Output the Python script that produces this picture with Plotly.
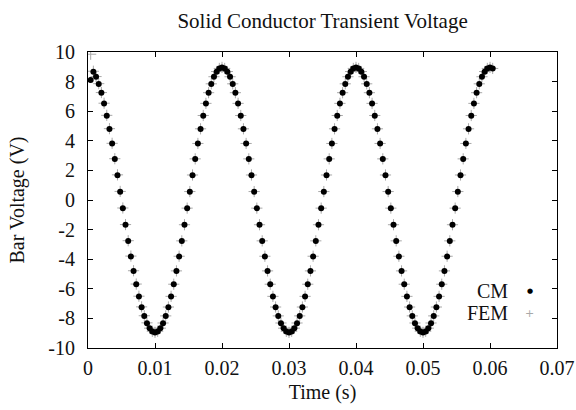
import plotly.graph_objects as go

# ---- data ----
time_step = 0.0004
cm_voltage = [
    8.10, 8.67, 8.32, 7.84, 7.24, 6.52, 5.70, 4.80, 3.81, 2.77, 1.68, 0.56,
    -0.56, -1.68, -2.77, -3.81, -4.80, -5.70, -6.52, -7.24, -7.84, -8.32, -8.67, -8.88, -8.95,
    -8.88, -8.67, -8.32, -7.84, -7.24, -6.52, -5.70, -4.80, -3.81, -2.77, -1.68, -0.56,
    0.56, 1.68, 2.77, 3.81, 4.80, 5.70, 6.52, 7.24, 7.84, 8.32, 8.67, 8.88, 8.95,
    8.88, 8.67, 8.32, 7.84, 7.24, 6.52, 5.70, 4.80, 3.81, 2.77, 1.68, 0.56,
    -0.56, -1.68, -2.77, -3.81, -4.80, -5.70, -6.52, -7.24, -7.84, -8.32, -8.67, -8.88, -8.95,
    -8.88, -8.67, -8.32, -7.84, -7.24, -6.52, -5.70, -4.80, -3.81, -2.77, -1.68, -0.56,
    0.56, 1.68, 2.77, 3.81, 4.80, 5.70, 6.52, 7.24, 7.84, 8.32, 8.67, 8.88, 8.95,
    8.88, 8.67, 8.32, 7.84, 7.24, 6.52, 5.70, 4.80, 3.81, 2.77, 1.68, 0.56,
    -0.56, -1.68, -2.77, -3.81, -4.80, -5.70, -6.52, -7.24, -7.84, -8.32, -8.67, -8.88, -8.95,
    -8.88, -8.67, -8.32, -7.84, -7.24, -6.52, -5.70, -4.80, -3.81, -2.77, -1.68, -0.56,
    0.56, 1.68, 2.77, 3.81, 4.80, 5.70, 6.52, 7.24, 7.84, 8.32, 8.67, 8.88, 8.95,
    8.88,
]
fem_voltage = [
    9.85, 8.70, 8.34, 7.86, 7.26, 6.54, 5.72, 4.82, 3.83, 2.79, 1.70, 0.58,
    -0.54, -1.66, -2.75, -3.79, -4.78, -5.68, -6.50, -7.22, -7.82, -8.30, -8.66, -8.87, -8.94,
    -8.87, -8.66, -8.31, -7.83, -7.23, -6.51, -5.69, -4.79, -3.80, -2.76, -1.67, -0.55,
    0.57, 1.69, 2.78, 3.82, 4.81, 5.71, 6.53, 7.25, 7.85, 8.33, 8.68, 8.89, 8.96,
    8.89, 8.68, 8.33, 7.85, 7.25, 6.53, 5.71, 4.81, 3.82, 2.78, 1.69, 0.57,
    -0.55, -1.67, -2.76, -3.80, -4.79, -5.69, -6.51, -7.23, -7.83, -8.31, -8.66, -8.87, -8.94,
    -8.87, -8.66, -8.31, -7.83, -7.23, -6.51, -5.69, -4.79, -3.80, -2.76, -1.67, -0.55,
    0.57, 1.69, 2.78, 3.82, 4.81, 5.71, 6.53, 7.25, 7.85, 8.33, 8.68, 8.89, 8.96,
    8.89, 8.68, 8.33, 7.85, 7.25, 6.53, 5.71, 4.81, 3.82, 2.78, 1.69, 0.57,
    -0.55, -1.67, -2.76, -3.80, -4.79, -5.69, -6.51, -7.23, -7.83, -8.31, -8.66, -8.87, -8.94,
    -8.87, -8.66, -8.31, -7.83, -7.23, -6.51, -5.69, -4.79, -3.80, -2.76, -1.67, -0.55,
    0.57, 1.69, 2.78, 3.82, 4.81, 5.71, 6.53, 7.25, 7.85, 8.33, 8.68, 8.89, 8.96,
    8.89,
]
time_s = [round(time_step * (i + 1), 4) for i in range(len(cm_voltage))]

x_tick_vals = [0, 0.01, 0.02, 0.03, 0.04, 0.05, 0.06, 0.07]
x_tick_text = ["0", "0.01", "0.02", "0.03", "0.04", "0.05", "0.06", "0.07"]
y_tick_vals = [10, 8, 6, 4, 2, 0, -2, -4, -6, -8, -10]
y_tick_text = ["10", "8", "6", "4", "2", "0", "-2", "-4", "-6", "-8", "-10"]

FONT = "Liberation Serif"
FS = 20

fig = go.Figure()
fig.add_trace(go.Scatter(
    x=time_s, y=fem_voltage, mode="markers", name="FEM",
    marker=dict(symbol="cross-thin", size=8, line=dict(color="#a8a8a8", width=1)),
))
fig.add_trace(go.Scatter(
    x=time_s, y=cm_voltage, mode="markers", name="CM",
    marker=dict(symbol="circle", size=6, color="black"),
))

axis_common = dict(
    showline=True, linecolor="black", linewidth=1, mirror="ticks",
    ticks="inside", ticklen=5, tickcolor="black", showgrid=False, zeroline=False,
    tickfont=dict(family=FONT, size=FS, color="#111"), automargin=False,
)
fig.update_xaxes(range=[0, 0.07], tickvals=x_tick_vals, ticktext=x_tick_text,
                 ticklabelstandoff=2,
                 title=dict(text="Time (s)", font=dict(family=FONT, size=FS, color="#111"), standoff=6),
                 **axis_common)
fig.update_yaxes(range=[-10, 10], tickvals=y_tick_vals, ticktext=y_tick_text,
                 ticklabelstandoff=8,
                 title=dict(text="Bar Voltage (V)", font=dict(family=FONT, size=FS, color="#111"), standoff=18),
                 **axis_common)

fig.add_annotation(xref="paper", yref="paper", x=0.900, y=0.1926, xanchor="right", yanchor="middle",
                   text="CM", showarrow=False, font=dict(family=FONT, size=FS, color="#111"))
fig.add_annotation(xref="paper", yref="paper", x=0.900, y=0.118, xanchor="right", yanchor="middle",
                   text="FEM", showarrow=False, font=dict(family=FONT, size=FS, color="#111"))
fig.add_annotation(xref="paper", yref="paper", x=0.942, y=0.1926, xanchor="center", yanchor="middle",
                   text="●", showarrow=False, font=dict(family="DejaVu Sans", size=7, color="black"))
fig.add_annotation(xref="paper", yref="paper", x=0.942, y=0.118, xanchor="center", yanchor="middle",
                   text="+", showarrow=False, font=dict(family="DejaVu Sans", size=11, color="#a8a8a8"))

fig.update_layout(
    width=576, height=410,
    margin=dict(l=88, r=19, t=52, b=62),
    paper_bgcolor="white", plot_bgcolor="white",
    showlegend=False,
    title=dict(text="Solid Conductor Transient Voltage", x=0.56, xanchor="center",
               y=0.949, yanchor="middle",
               font=dict(family=FONT, size=21, color="#111")),
)

fig.write_html("out.html", config={"displayModeBar": False},
               post_script="document.body.style.margin='0px';document.body.style.padding='0px';")
